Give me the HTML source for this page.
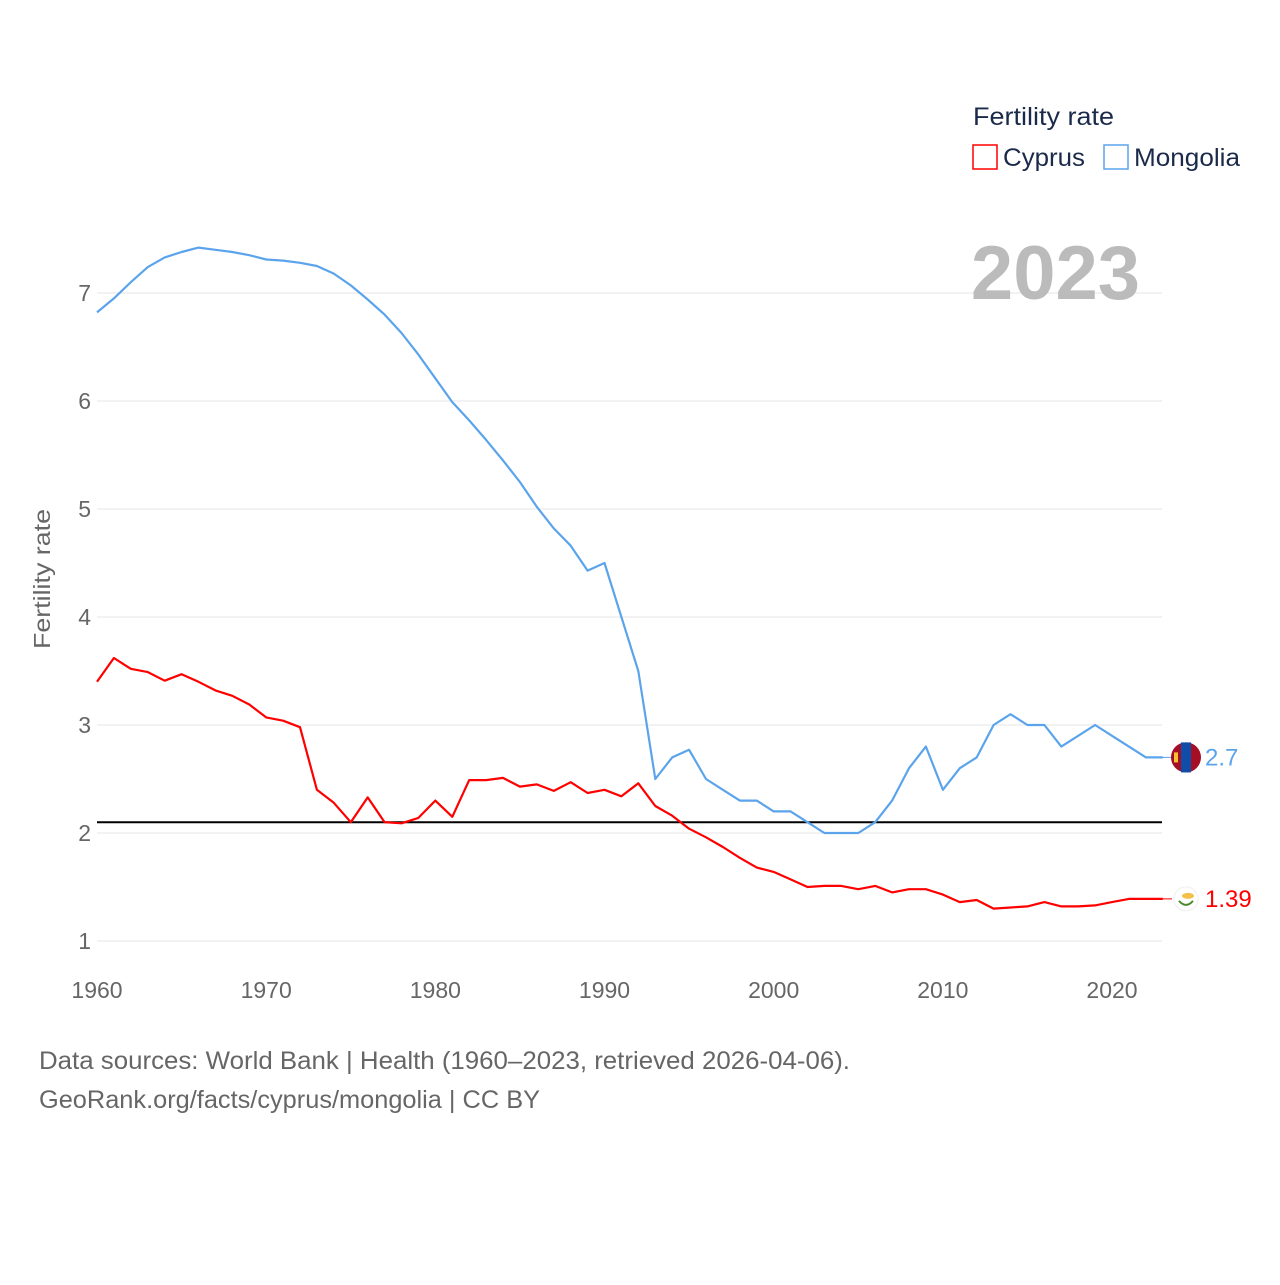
<!DOCTYPE html>
<html><head><meta charset="utf-8"><style>
html,body{margin:0;padding:0;background:#fff}
svg text{font-family:"Liberation Sans",sans-serif}
</style></head><body>
<svg id="chart" width="1280" height="1280" xmlns="http://www.w3.org/2000/svg">
<rect width="1280" height="1280" fill="#fff"/>
<g id="grid"></g>
<g id="lines"></g>
<text x="0" y="0" transform="translate(50,579) rotate(-90)" text-anchor="middle" font-size="23" fill="#666" textLength="140" lengthAdjust="spacingAndGlyphs">Fertility rate</text>
<text x="1140" y="299" text-anchor="end" font-size="76" font-weight="bold" fill="#bbb">2023</text>
<g>
<text x="973" y="125" font-size="25" fill="#1b2a4a" textLength="141" lengthAdjust="spacingAndGlyphs">Fertility rate</text>
<g><rect x="973" y="145" width="24" height="24" fill="none" stroke="#f00" stroke-width="1.5"/><text x="1003" y="166" font-size="25" fill="#1b2a4a" textLength="82" lengthAdjust="spacingAndGlyphs">Cyprus</text></g>
<g><rect x="1104" y="145" width="24" height="24" fill="none" stroke="#5ba4ec" stroke-width="1.5"/><text x="1134" y="166" font-size="25" fill="#1b2a4a" textLength="106" lengthAdjust="spacingAndGlyphs">Mongolia</text></g>
</g>
<text x="39" y="1069" font-size="25" fill="#666" textLength="811" lengthAdjust="spacingAndGlyphs">Data sources: World Bank | Health (1960–2023, retrieved 2026-04-06).</text>
<text x="39" y="1108" font-size="25" fill="#666" textLength="501" lengthAdjust="spacingAndGlyphs">GeoRank.org/facts/cyprus/mongolia | CC BY</text>
</svg>
<script>
const years=[];for(let y=1960;y<=2023;y++)years.push(y);
const mongolia=[6.82,6.95,7.1,7.24,7.33,7.38,7.42,7.4,7.38,7.35,7.31,7.3,7.28,7.25,7.18,7.07,6.94,6.8,6.63,6.43,6.21,5.99,5.82,5.64,5.45,5.25,5.02,4.82,4.66,4.43,4.5,4.0,3.5,2.5,2.7,2.77,2.5,2.4,2.3,2.3,2.2,2.2,2.1,2.0,2.0,2.0,2.1,2.3,2.6,2.8,2.4,2.6,2.7,3.0,3.1,3.0,3.0,2.8,2.9,3.0,2.9,2.8,2.7,2.7];
const cyprus=[3.4,3.62,3.52,3.49,3.41,3.47,3.4,3.32,3.27,3.19,3.07,3.04,2.98,2.4,2.28,2.1,2.33,2.1,2.09,2.14,2.3,2.15,2.49,2.49,2.51,2.43,2.45,2.39,2.47,2.37,2.4,2.34,2.46,2.25,2.16,2.04,1.96,1.87,1.77,1.68,1.64,1.57,1.5,1.51,1.51,1.48,1.51,1.45,1.48,1.48,1.43,1.36,1.38,1.3,1.31,1.32,1.36,1.32,1.32,1.33,1.36,1.39,1.39,1.39];
const yTicks=[1,2,3,4,5,6,7];
const xTicks=[1960,1970,1980,1990,2000,2010,2020];
const replacementRate=2.1;
const NS="http://www.w3.org/2000/svg";
const X=y=>97+(y-1960)*16.917;
const Y=v=>941-(v-1)*108;
function mk(tag,attrs,parent){const e=document.createElementNS(NS,tag);for(const k in attrs)e.setAttribute(k,attrs[k]);parent.appendChild(e);return e;}
const grid=document.getElementById('grid'),lines=document.getElementById('lines');
yTicks.forEach(t=>{
 const l=mk('line',{x1:97,x2:1162,y1:Y(t),y2:Y(t),stroke:'#e6e6e6','stroke-width':1},grid);
 
 
 const tx=mk('text',{x:91,y:Y(t)+8,'text-anchor':'end','font-size':23,fill:'#666'},grid);tx.textContent=t;
 
 
});
xTicks.forEach(t=>{
 const tx=mk('text',{x:X(t),y:998,'text-anchor':'middle','font-size':23,fill:'#666'},grid);tx.textContent=t;
 
 
});
const ref=mk('line',{x1:97,x2:1162,y1:Y(replacementRate),y2:Y(replacementRate),stroke:'#000','stroke-width':2},lines);


function series(vals,color,name){
 const d=vals.map((v,i)=>(i?'L':'M')+X(years[i]).toFixed(1)+','+Y(v).toFixed(1)).join('');
 const p=mk('path',{d:d,fill:'none',stroke:color,'stroke-width':2.2,'stroke-linejoin':'round'},lines);
 
 
 const last=vals[vals.length-1],ly=Y(last);
 mk('line',{x1:1162,x2:1172,y1:ly,y2:ly,stroke:color,'stroke-width':1},lines);
 const lab=mk('text',{x:1205,y:ly+8,'font-size':24,fill:color},lines);lab.textContent=last;
 
 
 return ly;
}
const my=series(mongolia,'#5ba4ec','mongolia');
const cy=series(cyprus,'#ff0000','cyprus');
const fm=mk('g',{},lines);


mk('circle',{cx:1186,cy:my,r:15,fill:'#a50f25'},fm);
mk('rect',{x:1181,y:my-15,width:10,height:30,fill:'#0f4da8'},fm);
mk('rect',{x:1174,y:my-5,width:4,height:10,fill:'#f5c330'},fm);
const fc=mk('g',{},lines);


mk('circle',{cx:1186,cy:cy,r:12,fill:'#fff',stroke:'#eee'},fc);
mk('ellipse',{cx:1188,cy:cy-3,rx:6,ry:3,fill:'#f5c04a'},fc);
mk('path',{d:`M1179,${cy+2} Q1186,${cy+10} 1193,${cy+2}`,fill:'none',stroke:'#4a8a2a','stroke-width':2},fc);
</script>
</body></html>
